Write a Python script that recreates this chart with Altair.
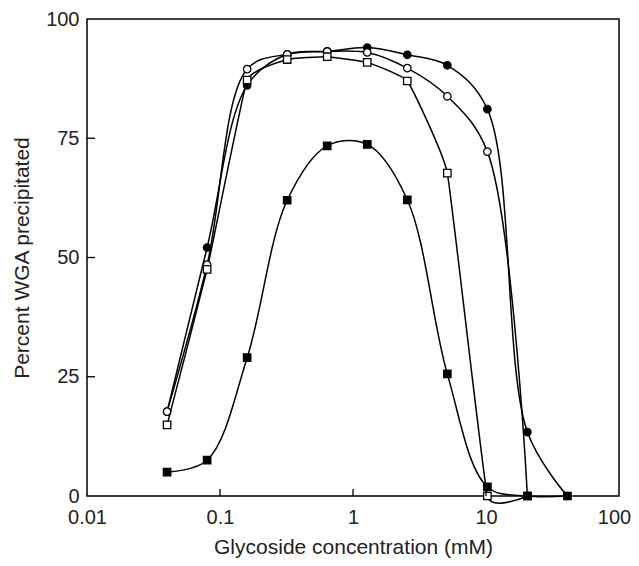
import altair as alt
import pandas as pd

conc = [0.04, 0.08, 0.16, 0.32, 0.64, 1.28, 2.56, 5.12, 10.24, 20.48, 40.96]

filled_circle = [17.7, 52.1, 86.1, 92.6, 93.2, 94.0, 92.5, 90.3, 81.1, 13.4, 0.0]
open_circle = [17.7, 48.5, 89.5, 92.6, 93.2, 93.0, 89.7, 83.8, 72.2, 0.0, None]
open_square = [14.9, 47.5, 87.2, 91.5, 92.1, 90.9, 87.0, 67.7, 0.0, 0.0, None]
filled_square = [5.0, 7.5, 29.0, 62.0, 73.4, 73.7, 62.1, 25.6, 1.9, 0.0, 0.0]

series_names = ["filled circle", "open circle", "open square", "filled square"]
series_values = [filled_circle, open_circle, open_square, filled_square]

rows = []
for order, (name, vals) in enumerate(zip(series_names, series_values)):
    for c, v in zip(conc, vals):
        if v is not None:
            rows.append({"series": name, "conc": c, "pct": v, "order": order})
df = pd.DataFrame(rows)

x_ticks = [0.1, 1, 10]
y_ticks = [25, 50, 75]

W, H = 532, 477
FONT = "Liberation Sans"

xscale = alt.Scale(type="log", domain=[0.01, 100], nice=False)
yscale = alt.Scale(domain=[0, 100], nice=False)

base = alt.Chart(df)

xaxis = alt.Axis(values=[0.01, 0.1, 1, 10, 100], format="~g", title="Glycoside concentration (mM)",
                 labelPadding=11, titlePadding=9, labelFlush=False,
                 labelOffset=alt.ExprRef(expr="datum.value == 100 ? -5 : 0"))
yaxis = alt.Axis(values=[0, 25, 50, 75, 100], title="Percent WGA precipitated",
                 labelPadding=8, titlePadding=13)

curve_styles = {
    "filled circle": dict(interpolate="catmull-rom"),
    "open circle": dict(interpolate="catmull-rom"),
    "open square": dict(interpolate="cardinal", tension=0.7),
    "filled square": dict(interpolate="catmull-rom"),
}

line_layers = []
for name in series_names:
    line_layers.append(
        base.transform_filter(alt.datum.series == name)
        .mark_line(color="black", strokeWidth=1.5, clip=False, **curve_styles[name])
        .encode(
            x=alt.X("conc:Q", scale=xscale, axis=xaxis),
            y=alt.Y("pct:Q", scale=yscale, axis=yaxis),
        )
    )

points = base.mark_point(filled=False, stroke="black", strokeWidth=1.3, size=55, opacity=1, clip=False).encode(
    x=alt.X("conc:Q", scale=xscale, axis=xaxis),
    y=alt.Y("pct:Q", scale=yscale, axis=yaxis),
    shape=alt.Shape("series:N", scale=alt.Scale(domain=series_names, range=["circle", "circle", "square", "square"]), legend=None),
    fill=alt.Fill("series:N", scale=alt.Scale(domain=series_names, range=["black", "white", "white", "black"]), legend=None),
    order=alt.Order("order:Q"),
)

xtick_df = pd.DataFrame({"t": x_ticks})
ytick_df = pd.DataFrame({"t": y_ticks})

xt = alt.Chart(xtick_df).mark_rule(color="black", strokeWidth=1.3).encode(
    x=alt.X("t:Q", scale=xscale, axis=xaxis), y=alt.value(H), y2=alt.value(H - 7)
)
yt = alt.Chart(ytick_df).mark_rule(color="black", strokeWidth=1.3).encode(
    y=alt.Y("t:Q", scale=yscale, axis=yaxis), x=alt.value(0), x2=alt.value(8)
)

chart = alt.layer(*line_layers, points, xt, yt).properties(
    width=W, height=H,
    background="white",
    autosize=alt.AutoSizeParams(type="none"),
    padding={"left": 79, "top": 11, "right": 12, "bottom": 62},
).configure_view(
    stroke="black", strokeWidth=1.5
).configure_axis(
    grid=False, ticks=False, domain=False,
    labelFont=FONT, titleFont=FONT, labelFontSize=20, titleFontSize=21,
    labelColor="#222", titleColor="#222", titleFontWeight="normal",
)

chart.save("out.html", embed_options={"renderer": "svg", "actions": False})
